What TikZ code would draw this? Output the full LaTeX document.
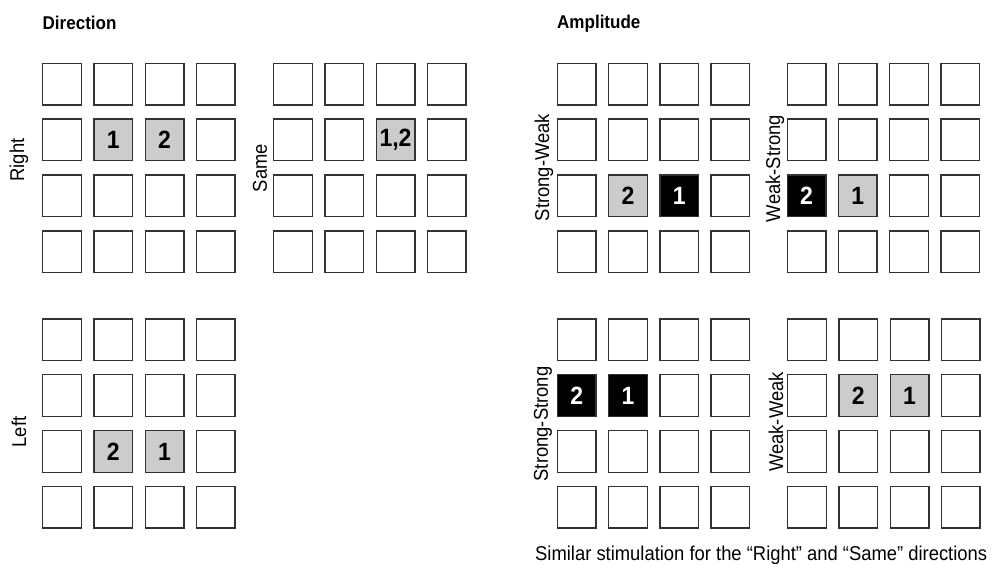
\documentclass[tikz,border=0pt]{standalone}
\usepackage{fontspec}
\setmainfont{Liberation Sans}[FakeStretch=0.92]
\begin{document}
\begin{tikzpicture}[x=1pt,y=-1pt,
  cell/.style={draw=black!80,line width=1.4pt,fill=white,minimum width=38.6pt,minimum height=41.6pt,inner sep=0pt},
  lit/.style={cell,fill=gray!40,font=\bfseries\fontsize{25}{25}\selectfont},
  strong/.style={cell,fill=black,text=white,font=\bfseries\fontsize{25}{25}\selectfont},
  side/.style={rotate=90,font=\fontsize{20}{20}\selectfont,inner sep=0pt},
  head/.style={anchor=base west,inner sep=0pt,font=\bfseries\fontsize{18.5}{18.5}\selectfont}]
\useasboundingbox[fill=white] (0,0) rectangle (991,563);
% grids
\foreach \g/\x/\y in {R/62/84, S/293/84, L/62/339.6, SW/576.7/84, WS/806.5/84, SS/576.7/339.6, WW/807/339.6}{
  \foreach \r in {1,...,4}{
    \foreach \c in {1,...,4}{
      \node[cell] (\g-\r-\c) at ({\x+(\c-1)*51.25},{\y+(\r-1)*55.9}) {};
    }
  }
}
% highlighted cells
\node[lit] (R1) at (R-2-2) {1};
\node[lit] (R2) at (R-2-3) {2};
\node[lit] (S12) at (S-2-3) {1,2};
\node[lit] (L2) at (L-3-2) {2};
\node[lit] (L1) at (L-3-3) {1};
\node[lit] (SW2) at (SW-3-2) {2};
\node[strong] (SW1) at (SW-3-3) {1};
\node[strong] (WS2) at (WS-3-1) {2};
\node[lit] (WS1) at (WS-3-2) {1};
\node[strong] (SS2) at (SS-2-1) {2};
\node[strong] (SS1) at (SS-2-2) {1};
\node[lit] (WW2) at (WW-2-2) {2};
\node[lit] (WW1) at (WW-2-3) {1};
% side labels
\node[side] (lR) at (19,160) {Right};
\node[side] (lS) at (260,168) {Same};
\node[side] (lL) at (19,432) {Left};
\node[side] (lSW) at (544,167.5) {Strong-Weak};
\node[side] (lWS) at (775,168.5) {Weak-Strong};
\node[side] (lSS) at (543,424) {Strong-Strong};
\node[side] (lWW) at (776,422) {Weak-Weak};
% headings
\node[head] (hD) at (42.5,29.3) {Direction};
\node[head] (hA) at (557,28.5) {Amplitude};
\node[anchor=base west,inner sep=0pt,font=\fontsize{20}{20}\selectfont] (cap) at (535,560) {Similar stimulation for the “Right” and “Same” directions};
\end{tikzpicture}
\end{document}
